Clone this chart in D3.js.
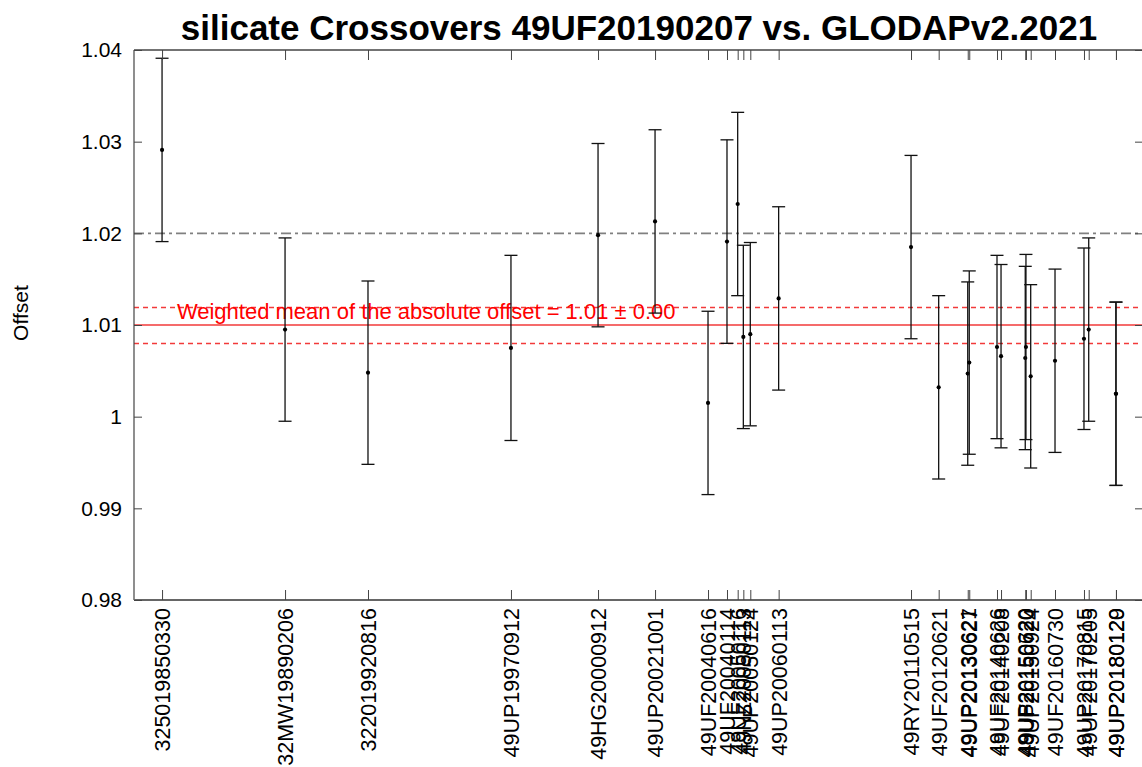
<!DOCTYPE html>
<html>
<head>
<meta charset="utf-8">
<script src="https://cdn.jsdelivr.net/npm/d3@7"></script>
<style>
  html, body { margin: 0; padding: 0; background: #fff; }
  svg { display: block; font-family: "Liberation Sans", Arial, sans-serif; }
</style>
</head>
<body>
<svg id="chart" width="1142" height="767"></svg>
<script>
// ---- data ----
const cruises = [
  "325019850330","32MW19890206","322019920816","49UP19970912","49HG20000912",
  "49UP20021001","49UF20040616","49UF20040114","49UF20050116","49NZ20050113",
  "49UP20050124","49UP20060113","49RY20110515","49UF20120621","49UP20130621",
  "49UP20130627","49UF20140626","49UF20140208","49UP20150620","49UF20150720",
  "49UP20150924","49UF20160730","49UP20170815","49UF20170205","49UP20180129",
  "49UP20180120"
];
// x position along the axis (axis units 0..100)
const xPositions = [
  2.78, 14.97, 23.19, 37.36, 45.99,
  51.64, 56.89, 58.77, 59.83, 60.39,
  61.08, 63.89, 77.01, 79.75, 82.63,
  82.78, 85.53, 85.93, 88.33, 88.40,
  88.87, 91.28, 94.15, 94.62, 97.32,
  97.32
];
const offsets = [
  1.0291, 1.0095, 1.0048, 1.0075, 1.0198,
  1.0213, 1.0015, 1.0191, 1.0232, 1.0087,
  1.0090, 1.0129, 1.0185, 1.0032, 1.0047,
  1.0059, 1.0076, 1.0066, 1.0064, 1.0076,
  1.0044, 1.0061, 1.0085, 1.0095, 1.0025,
  1.0025
];
const errors = [
  0.0100, 0.0100, 0.0100, 0.0101, 0.0100,
  0.0100, 0.0100, 0.0111, 0.0100, 0.0100,
  0.0100, 0.0100, 0.0100, 0.0100, 0.0100,
  0.0100, 0.0100, 0.0100, 0.0100, 0.0101,
  0.0100, 0.0100, 0.0099, 0.0100, 0.0100,
  0.0100
];
const yTicks = [0.98, 0.99, 1.00, 1.01, 1.02, 1.03, 1.04];
const yTickLabels = ["0.98","0.99","1","1.01","1.02","1.03","1.04"];
const meanOffset = 1.01;
const meanBand = [1.008, 1.012];
const thresholdLine = 1.02;
const titleText = "silicate Crossovers 49UF20190207 vs. GLODAPv2.2021";
const yLabelText = "Offset";
const meanText = "Weighted mean of the absolute offset = 1.01 \u00B1 0.00";

// ---- layout ----
const svg = d3.select("#chart");
const L = 134, R = 1143, T = 50, B = 600;
const x = d3.scaleLinear().domain([0, 100]).range([L, R]);
const y = d3.scaleLinear().domain([0.98, 1.04]).range([B, T]);

const data = cruises.map((c, i) => ({ name: c, x: xPositions[i], v: offsets[i], e: errors[i] }));

// reference lines
svg.append("line")
  .attr("x1", L).attr("x2", R)
  .attr("y1", y(thresholdLine)).attr("y2", y(thresholdLine))
  .attr("stroke", "#808080").attr("stroke-width", 1.8)
  .attr("stroke-dasharray", "10,4,3,4");

svg.append("line")
  .attr("x1", L).attr("x2", R)
  .attr("y1", y(meanOffset)).attr("y2", y(meanOffset))
  .attr("stroke", "#f23a3a").attr("stroke-width", 1.4);

svg.selectAll("line.band").data(meanBand).enter().append("line")
  .attr("class", "band")
  .attr("x1", L).attr("x2", R)
  .attr("y1", d => Math.round(y(d)) + 0.5).attr("y2", d => Math.round(y(d)) + 0.5)
  .attr("stroke", "#f23a3a").attr("stroke-width", 1.4)
  .attr("stroke-dasharray", "5,4");

// mean text
svg.append("text")
  .attr("x", x(4.25)).attr("y", y(1.0107))
  .attr("fill", "#ff0000").attr("font-size", 22)
  .text(meanText);

// error bars
const capW = 6.5;
const g = svg.append("g");
data.forEach(d => {
  const cx = x(d.x);
  const y1 = y(d.v + d.e), y0 = y(d.v - d.e);
  g.append("line").attr("x1", cx).attr("x2", cx).attr("y1", y1).attr("y2", y0)
    .attr("stroke", "#111").attr("stroke-width", 1.3);
  g.append("line").attr("x1", cx - capW).attr("x2", cx + capW).attr("y1", y1).attr("y2", y1)
    .attr("stroke", "#111").attr("stroke-width", 1.3);
  g.append("line").attr("x1", cx - capW).attr("x2", cx + capW).attr("y1", y0).attr("y2", y0)
    .attr("stroke", "#111").attr("stroke-width", 1.3);
  g.append("circle").attr("cx", cx).attr("cy", y(d.v)).attr("r", 2.1).attr("fill", "#000");
});

// axes box
const axisColor = "#444";
svg.append("line").attr("x1", L).attr("x2", L).attr("y1", T).attr("y2", B)
  .attr("stroke", axisColor).attr("stroke-width", 1.2);
svg.append("line").attr("x1", L).attr("x2", R).attr("y1", T).attr("y2", T)
  .attr("stroke", axisColor).attr("stroke-width", 1.5);
svg.append("line").attr("x1", L).attr("x2", R).attr("y1", B).attr("y2", B)
  .attr("stroke", "#666").attr("stroke-width", 2);
svg.append("line").attr("x1", R).attr("x2", R).attr("y1", T).attr("y2", B)
  .attr("stroke", axisColor).attr("stroke-width", 1.2);

// y axis (left) using d3 axis with inward ticks
const yAxis = d3.axisLeft(y).tickValues(yTicks)
  .tickFormat((d, i) => yTickLabels[i]).tickSizeInner(-8).tickSizeOuter(0).tickPadding(12);
const ya = svg.append("g").attr("transform", `translate(${L},0)`).call(yAxis);
ya.select(".domain").remove();
ya.selectAll(".tick line").attr("stroke", axisColor);
ya.selectAll(".tick text").attr("font-size", 21).attr("fill", "#000")
  .attr("font-family", "Liberation Sans, Arial, sans-serif");

// right ticks
const yAxisR = d3.axisRight(y).tickValues(yTicks).tickFormat("").tickSizeInner(-8).tickSizeOuter(0);
const yr = svg.append("g").attr("transform", `translate(${R},0)`).call(yAxisR);
yr.select(".domain").remove();
yr.selectAll(".tick line").attr("stroke", axisColor);

// x axis bottom with labels
const xAxis = d3.axisBottom(x).tickValues(xPositions).tickFormat("").tickSizeInner(-10).tickSizeOuter(0);
const xa = svg.append("g").attr("transform", `translate(0,${B})`).call(xAxis);
xa.select(".domain").remove();
xa.selectAll(".tick line").attr("stroke", axisColor);
// top ticks
const xAxisT = d3.axisTop(x).tickValues(xPositions).tickFormat("").tickSizeInner(-10).tickSizeOuter(0);
const xt = svg.append("g").attr("transform", `translate(0,${T})`).call(xAxisT);
xt.select(".domain").remove();
xt.selectAll(".tick line").attr("stroke", axisColor);

// rotated x labels
svg.append("g").selectAll("text").data(data).enter().append("text")
  .attr("transform", d => `translate(${x(d.x) + 8},${B + 8}) rotate(-90)`)
  .attr("text-anchor", "end")
  .attr("font-size", 21.5)
  .attr("fill", "#000")
  .text(d => d.name);

// title
svg.append("text")
  .attr("x", 639).attr("y", 40)
  .attr("text-anchor", "middle")
  .attr("font-size", 35).attr("font-weight", "bold")
  .attr("fill", "#000")
  .text(titleText);

// y label
svg.append("text")
  .attr("transform", `translate(28,${y(1.0113)}) rotate(-90)`)
  .attr("text-anchor", "middle")
  .attr("font-size", 21)
  .attr("fill", "#000")
  .text(yLabelText);
</script>
</body>
</html>
